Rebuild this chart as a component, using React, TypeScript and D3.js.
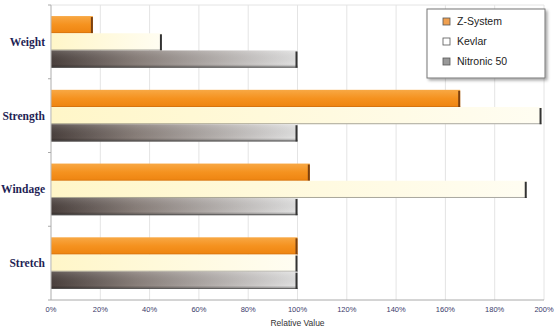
import React from "react";
import * as d3 from "d3";

const categories = ["Weight", "Strength", "Windage", "Stretch"];
const series = ["Z-System", "Kevlar", "Nitronic 50"];
const zSystem = [17, 166, 105, 100];
const kevlar = [45, 199, 193, 100];
const nitronic = [100, 100, 100, 100];
const ticks = [0, 20, 40, 60, 80, 100, 120, 140, 160, 180, 200];

const W = 554, H = 330;
const left = 51, right = 544, top = 5, bottom = 300;

export default function App() {
  const x = d3.scaleLinear().domain([0, 200]).range([left, right]);
  const y = d3.scaleBand().domain(categories).range([top, bottom]).paddingInner(0.3).paddingOuter(0.15);
  const inner = d3.scaleBand().domain(series).range([0, y.bandwidth()]).padding(0);
  const values = [zSystem, kevlar, nitronic];
  const fills = ["url(#gOrange)", "url(#gKevlar)", "url(#gNit)"];
  const edges = ["#7a4010", "#333", "#333"];
  const font = "Arial, 'Liberation Sans', sans-serif";
  return (
    <svg width={W} height={H} style={{ position: "absolute", left: 0, top: 0, background: "#fff" }}>
      <defs>
        <linearGradient id="gOrange" x1="0" y1="0" x2="0" y2="1">
          <stop offset="0" stopColor="#f8a844" />
          <stop offset="0.5" stopColor="#f5921f" />
          <stop offset="1" stopColor="#ee8410" />
        </linearGradient>
        <linearGradient id="gKevlar" x1="0" y1="0" x2="1" y2="0">
          <stop offset="0" stopColor="#fff6c8" />
          <stop offset="1" stopColor="#fffdf2" />
        </linearGradient>
        <linearGradient id="gNit" x1="0" y1="0" x2="1" y2="0">
          <stop offset="0" stopColor="#4a403d" />
          <stop offset="0.35" stopColor="#8a807b" />
          <stop offset="1" stopColor="#e2e2e2" />
        </linearGradient>
        <linearGradient id="gNitV" x1="0" y1="0" x2="0" y2="1">
          <stop offset="0" stopColor="#fff" stopOpacity="0.15" />
          <stop offset="0.8" stopColor="#000" stopOpacity="0" />
          <stop offset="1" stopColor="#000" stopOpacity="0.35" />
        </linearGradient>
        <filter id="shadow" x="-10%" y="-10%" width="130%" height="130%">
          <feDropShadow dx="2" dy="2" stdDeviation="1.5" floodColor="#000" floodOpacity="0.35" />
        </filter>
      </defs>
      {ticks.map((t) => (
        <line key={t} x1={x(t)} x2={x(t)} y1={top} y2={bottom} stroke="#e4e4e4" strokeWidth={1} />
      ))}
      <line x1={left} x2={right} y1={top} y2={top} stroke="#e4e4e4" />
      {categories.map((c, ci) =>
        series.map((s, si) => {
          const y0 = (y(c) as number) + (inner(s) as number);
          const h = inner.bandwidth();
          const xe = x(values[si][ci]);
          return (
            <g key={c + s}>
              <rect x={x(0)} y={y0} width={xe - x(0)} height={h} fill={fills[si]} />
              {si === 2 && <rect x={x(0)} y={y0} width={xe - x(0)} height={h} fill="url(#gNitV)" />}
              <line x1={x(0)} x2={xe} y1={y0 + h - 0.5} y2={y0 + h - 0.5} stroke={si === 0 ? "#d07010" : "#555"} strokeWidth={si === 1 ? 1 : 1} opacity={si === 1 ? 0.5 : 0.8} />
              <line x1={xe - 1} x2={xe - 1} y1={y0 + 1} y2={y0 + h} stroke={edges[si]} strokeWidth={2} />
            </g>
          );
        })
      )}
      <line x1={left} x2={left} y1={top} y2={bottom} stroke="#bbb" />
      <line x1={left} x2={right} y1={bottom} y2={bottom} stroke="#aaa" />
      {d3.range(categories.length + 1).map((i) => {
        const yy = top + (i * (bottom - top)) / categories.length;
        return <line key={i} x1={left - 3} x2={left} y1={yy} y2={yy} stroke="#aaa" />;
      })}
      {ticks.map((t) => (
        <text key={t} x={x(t)} y={312} textAnchor="middle" fontFamily={font} fontSize={7.5} fill="#3a3a6a">
          {t}%
        </text>
      ))}
      <text x={x(100)} y={326} textAnchor="middle" fontFamily={font} fontSize={8.5} fill="#333">
        Relative Value
      </text>
      {categories.map((c) => (
        <text key={c} x={45} y={(y(c) as number) + y.bandwidth() / 2 + 4} textAnchor="end" fontFamily="'Liberation Serif', 'DejaVu Serif', serif" fontWeight="bold" fontSize={11.5} fill="#1f1f55">
          {c}
        </text>
      ))}
      <g>
        <rect x={427} y={9} width={118} height={69} fill="#fff" stroke="#777" strokeWidth={1} filter="url(#shadow)" />
        {series.map((s, i) => (
          <g key={s} transform={`translate(443, ${24 + i * 20})`}>
            <rect x={0} y={-6} width={7} height={7} fill={i === 0 ? "#f0a050" : i === 1 ? "#fff" : "#999"} stroke="#555" strokeWidth={0.8} />
            <text x={14} y={1} fontFamily={font} fontSize={10.5} fill="#222">{s}</text>
          </g>
        ))}
      </g>
    </svg>
  );
}
